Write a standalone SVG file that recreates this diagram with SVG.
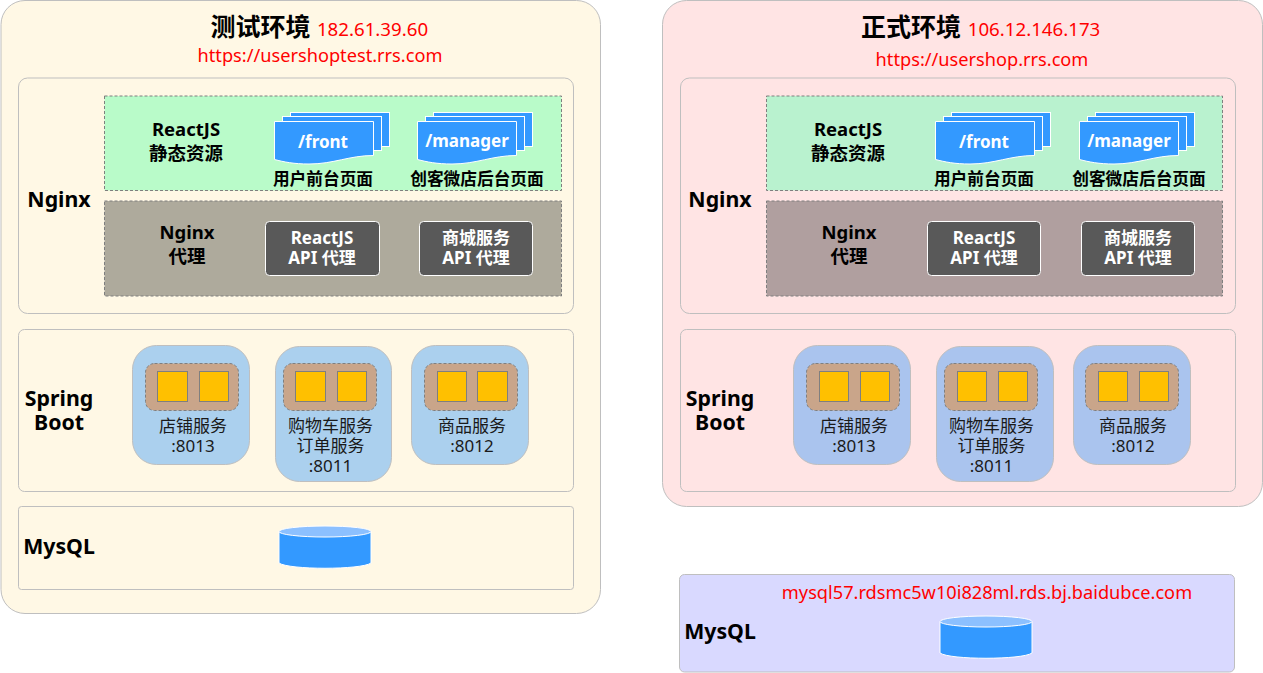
<svg xmlns="http://www.w3.org/2000/svg" width="1263" height="673" viewBox="0 0 1263 673">
<style>
text{font-family:"Noto Sans","Noto Sans CJK SC",sans-serif;text-anchor:middle}
.pn{stroke:#bfbfbf;stroke-width:1}
.t{font-size:25px;font-weight:700;fill:#000}
.r{font-size:18.200px;fill:#f00}
.ip{font-size:18.700px;fill:#f00}
.l{font-size:21.300px;font-weight:700;fill:#000}
.m{font-size:18.500px;font-weight:700;fill:#000}
.w{font-size:17px;font-weight:700;fill:#fff}
.d{font-size:16.700px;font-weight:700;fill:#000}
.f{font-size:17px;font-weight:700;fill:#fff}
.s{font-size:17px;fill:#1a1a1a}
.dash{stroke:#7f7f7f;stroke-width:1;stroke-dasharray:3 2}
.doc{fill:#39f;stroke:#fff;stroke-width:1}
.dk{fill:#595959;stroke:#fff;stroke-width:1}
.card{stroke:#bfbfbf;stroke-width:1}
.in{fill:#c9a58a;stroke:#7f7f7f;stroke-width:1;stroke-dasharray:3 2}
.sq{fill:#ffc000;stroke:#7f7f7f;stroke-width:1}
.cyl{fill:#39f;stroke:#fff;stroke-width:1}
.cy2{fill:#8cc0ff;stroke:#fff;stroke-width:1}
</style>
<defs>
<g id="doc">
<rect class="doc" x="16.500" y="0.500" width="99" height="34"/>
<rect class="doc" x="8.500" y="4.500" width="99" height="34"/>
<path class="doc" d="M0.500 9.500H99.500V43.500C75 43.500 60 52 35 52C20 52 10 50 0.500 47.500Z"/>
</g>
<g id="cyl">
<path class="cyl" d="M0.500 6V37C10 44 83 44 92.500 37V6Z"/>
<ellipse class="cy2" cx="46.500" cy="5.500" rx="46" ry="5.500"/>
</g>
</defs>
<g id="connectors"/>
<g id="env-test">
<rect class="pn" x="1" y="0.500" width="599.500" height="613" rx="24" fill="#fff8e5"/>
<text class="t" x="260.500" y="36">测试环境</text>
<text class="ip" x="372.500" y="36">182.61.39.60</text>
<text class="r" x="320" y="62">https://usershoptest.rrs.com</text>
</g>
<g id="test-nginx">
<rect class="pn" x="18.500" y="78" width="555" height="235.500" rx="9" fill="#fff8e5"/>
<text class="l" x="59" y="207">Nginx</text>
<rect class="dash" x="104.500" y="96" width="457" height="94.500" fill="#b9fbc9"/>
<text class="m" x="186"><tspan x="186" y="136">ReactJS</tspan><tspan x="186" y="160">静态资源</tspan></text>
<use href="#doc" x="274" y="112"/>
<text class="f" x="323" y="148">/front</text>
<text class="d" x="323" y="185">用户前台页面</text>
<use href="#doc" x="417" y="112"/>
<text class="f" x="467" y="147">/manager</text>
<text class="d" x="477" y="185">创客微店后台页面</text>
<rect class="dash" x="104.500" y="201" width="457" height="95" fill="#aeaa9c"/>
<text class="m" x="187"><tspan x="187" y="239">Nginx</tspan><tspan x="187" y="263">代理</tspan></text>
<rect class="dk" x="265.500" y="221.500" width="114" height="54" rx="4"/>
<text class="w" x="322"><tspan x="322" y="244">ReactJS</tspan><tspan x="322" y="264">API 代理</tspan></text>
<rect class="dk" x="419.500" y="221.500" width="113" height="54" rx="4"/>
<text class="w" x="476"><tspan x="476" y="244">商城服务</tspan><tspan x="476" y="264">API 代理</tspan></text>
</g>
<g id="test-spring">
<rect class="pn" x="18.500" y="329.500" width="555" height="162" rx="6" fill="#fff8e5"/>
<text class="l" x="59"><tspan x="59" y="406">Spring</tspan><tspan x="59" y="430">Boot</tspan></text>
<rect class="card" x="132.500" y="345.500" width="117" height="119" rx="24" fill="#abd0ee"/>
<rect class="in" x="145.500" y="363.500" width="93" height="47" rx="9"/>
<rect class="sq" x="157.500" y="371.500" width="30" height="30"/>
<rect class="sq" x="199.500" y="371.500" width="29" height="30"/>
<text class="s" x="193"><tspan x="193" y="432">店铺服务</tspan><tspan x="193" y="452">:8013</tspan></text>
<rect class="card" x="275.500" y="346.500" width="116" height="135" rx="24" fill="#abd0ee"/>
<rect class="in" x="283.500" y="363.500" width="93" height="47" rx="9"/>
<rect class="sq" x="295.500" y="371.500" width="30" height="30"/>
<rect class="sq" x="337.500" y="371.500" width="29" height="30"/>
<text class="s" x="330.500"><tspan x="330.500" y="432">购物车服务</tspan><tspan x="330.500" y="452">订单服务</tspan><tspan x="330.500" y="472">:8011</tspan></text>
<rect class="card" x="411.500" y="345.500" width="117" height="119" rx="24" fill="#abd0ee"/>
<rect class="in" x="424.500" y="363.500" width="93" height="47" rx="9"/>
<rect class="sq" x="437.500" y="371.500" width="29" height="30"/>
<rect class="sq" x="477.500" y="371.500" width="30" height="30"/>
<text class="s" x="472"><tspan x="472" y="432">商品服务</tspan><tspan x="472" y="452">:8012</tspan></text>
</g>
<g id="test-mysql">
<rect class="pn" x="18.500" y="506.500" width="555" height="83" rx="3" fill="#fff8e5"/>
<text class="l" x="59" y="554">MysQL</text>
<use href="#cyl" x="278.500" y="526"/>
</g>
<g id="env-prod">
<rect class="pn" x="662.500" y="0.500" width="600" height="506" rx="24" fill="#ffe4e4"/>
<text class="t" x="911" y="36">正式环境</text>
<text class="ip" x="1034" y="36">106.12.146.173</text>
<text class="r" x="982" y="66">https://usershop.rrs.com</text>
</g>
<g id="prod-nginx">
<rect class="pn" x="680.500" y="78" width="555" height="235.500" rx="9" fill="#ffe4e4"/>
<text class="l" x="720" y="207">Nginx</text>
<rect class="dash" x="766.500" y="96" width="456" height="94.500" fill="#b9f2cf"/>
<text class="m" x="848"><tspan x="848" y="136">ReactJS</tspan><tspan x="848" y="160">静态资源</tspan></text>
<use href="#doc" x="935" y="112"/>
<text class="f" x="984" y="148">/front</text>
<text class="d" x="984" y="185">用户前台页面</text>
<use href="#doc" x="1079" y="112"/>
<text class="f" x="1129" y="147">/manager</text>
<text class="d" x="1139" y="185">创客微店后台页面</text>
<rect class="dash" x="766.500" y="201" width="456" height="95" fill="#b09f9f"/>
<text class="m" x="849"><tspan x="849" y="239">Nginx</tspan><tspan x="849" y="263">代理</tspan></text>
<rect class="dk" x="927.500" y="221.500" width="113" height="54" rx="4"/>
<text class="w" x="984"><tspan x="984" y="244">ReactJS</tspan><tspan x="984" y="264">API 代理</tspan></text>
<rect class="dk" x="1081.500" y="221.500" width="113" height="54" rx="4"/>
<text class="w" x="1138"><tspan x="1138" y="244">商城服务</tspan><tspan x="1138" y="264">API 代理</tspan></text>
</g>
<g id="prod-spring">
<rect class="pn" x="680.500" y="329.500" width="555" height="162" rx="6" fill="#ffe4e4"/>
<text class="l" x="720"><tspan x="720" y="406">Spring</tspan><tspan x="720" y="430">Boot</tspan></text>
<rect class="card" x="793.500" y="345.500" width="117" height="119" rx="24" fill="#aac4ee"/>
<rect class="in" x="806.500" y="363.500" width="93" height="47" rx="9"/>
<rect class="sq" x="819.500" y="371.500" width="29" height="30"/>
<rect class="sq" x="860.500" y="371.500" width="29" height="30"/>
<text class="s" x="854"><tspan x="854" y="432">店铺服务</tspan><tspan x="854" y="452">:8013</tspan></text>
<rect class="card" x="936.500" y="346.500" width="117" height="135" rx="24" fill="#aac4ee"/>
<rect class="in" x="944.500" y="363.500" width="93" height="47" rx="9"/>
<rect class="sq" x="957.500" y="371.500" width="29" height="30"/>
<rect class="sq" x="998.500" y="371.500" width="29" height="30"/>
<text class="s" x="991.500"><tspan x="991.500" y="432">购物车服务</tspan><tspan x="991.500" y="452">订单服务</tspan><tspan x="991.500" y="472">:8011</tspan></text>
<rect class="card" x="1073.500" y="345.500" width="117" height="119" rx="24" fill="#aac4ee"/>
<rect class="in" x="1085.500" y="363.500" width="93" height="47" rx="9"/>
<rect class="sq" x="1098.500" y="371.500" width="29" height="30"/>
<rect class="sq" x="1139.500" y="371.500" width="29" height="30"/>
<text class="s" x="1133"><tspan x="1133" y="432">商品服务</tspan><tspan x="1133" y="452">:8012</tspan></text>
</g>
<g id="prod-mysql">
<rect class="pn" x="679.500" y="574.500" width="555" height="97.500" rx="5" fill="#d9d9ff"/>
<text class="l" x="720" y="639">MysQL</text>
<text class="r" x="987" y="599">mysql57.rdsmc5w10i828ml.rds.bj.baidubce.com</text>
<use href="#cyl" x="939.500" y="616"/>
</g>
</svg>
